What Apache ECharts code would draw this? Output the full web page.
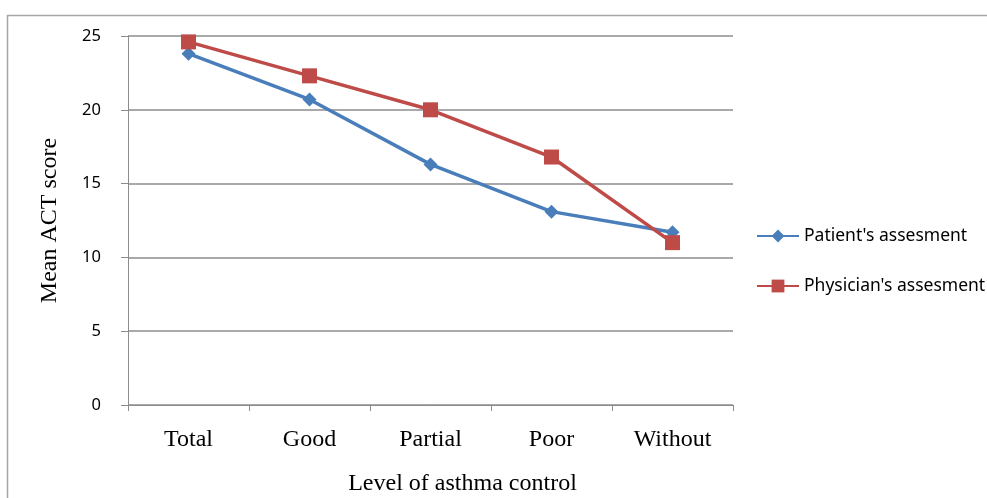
<!DOCTYPE html>
<html><head><meta charset="utf-8">
<script src="https://cdn.jsdelivr.net/npm/echarts@6/dist/echarts.min.js"></script>
<style>html,body{margin:0;padding:0;background:#fff}#c{width:987px;height:498px}</style>
</head><body><div id="c"></div>
<script>
var categories = ['Total', 'Good', 'Partial', 'Poor', 'Without'];
var patient = [23.8, 20.7, 16.3, 13.1, 11.7];
var physician = [24.6, 22.3, 20.0, 16.8, 11.0];
var seriesNames = ["Patient's assesment", "Physician's assesment"];
var yTitle = 'Mean ACT score';
var xTitle = 'Level of asthma control';

var chart = echarts.init(document.getElementById('c'), null, {renderer: 'canvas'});
var gray = '#8c8c8c';
chart.setOption({
  animation: false,
  backgroundColor: '#fff',
  graphic: [{type: 'rect', left: 5, top: 13, shape: {width: 1000, height: 500}, style: {fill: 'none', stroke: '#a6a6a6', lineWidth: 1.5}, silent: true}],
  grid: {left: 128, right: 254, top: 36, bottom: 93, outerBoundsMode: 'none', containLabel: false},
  legend: {
    orient: 'vertical', left: 751, top: 222,
    itemWidth: 42, itemHeight: 16, itemGap: 32,
    textStyle: {fontFamily: 'Noto Sans', fontSize: 17.5, color: '#000'},
    data: seriesNames
  },
  xAxis: {
    type: 'category', data: categories, boundaryGap: true,
    axisLine: {lineStyle: {color: gray, width: 1}},
    axisTick: {show: true, length: 6, alignWithLabel: false, lineStyle: {color: gray}},
    axisLabel: {fontFamily: 'Liberation Serif', fontSize: 24, color: '#000', margin: 23},
    name: xTitle, nameLocation: 'middle', nameGap: 67,
    nameTextStyle: {fontFamily: 'Liberation Serif', fontSize: 24, color: '#000', padding: [0, 0, 0, 64]}
  },
  yAxis: {
    type: 'value', min: 0, max: 25, interval: 5,
    axisLine: {show: true, lineStyle: {color: gray, width: 1}},
    axisTick: {show: true, length: 7, lineStyle: {color: gray}},
    axisLabel: {fontFamily: 'Noto Sans', fontSize: 16.5, color: '#000', margin: 27},
    splitLine: {show: true, lineStyle: {color: gray, width: 1.5}},
    name: yTitle, nameLocation: 'middle', nameGap: 66, nameRotate: 90,
    nameTextStyle: {fontFamily: 'Liberation Serif', fontSize: 24, color: '#000'}
  },
  series: [
    {name: seriesNames[0], type: 'line', data: patient, symbol: 'diamond', symbolSize: 14,
     lineStyle: {color: '#4a7ebb', width: 3.5}, itemStyle: {color: '#4a7ebb'}},
    {name: seriesNames[1], type: 'line', data: physician, symbol: 'rect', symbolSize: 15,
     lineStyle: {color: '#be4b48', width: 3.5}, itemStyle: {color: '#be4b48'}}
  ]
});
</script></body></html>
